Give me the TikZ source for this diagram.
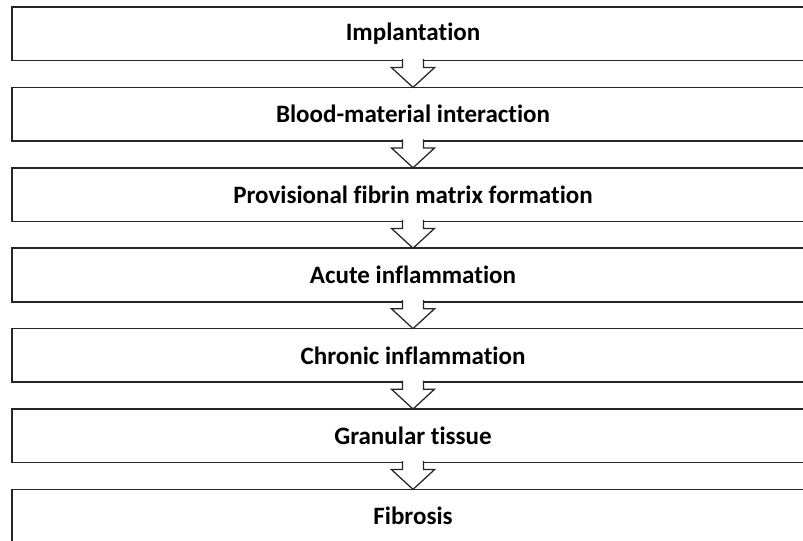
\documentclass[tikz,border=0pt]{standalone}
\usepackage{fontspec}
\setmainfont{Carlito}[Ligatures=NoCommon]
\usetikzlibrary{positioning, calc}
\tikzset{
  every picture/.style={font=\bfseries\fontsize{17.8}{21}\selectfont},
  stage/.style={draw=black!85, line width=1.2pt, minimum width=20.05cm, minimum height=1.34cm, inner sep=0pt, outer sep=0pt},
  blockarrow/.style={draw=black!85, fill=white, line width=0.9pt, line join=miter},
}

\begin{document}
\begin{tikzpicture}[node distance=0.67cm]
  \clip (0,0) rectangle (20.075,-13.5);
  \node[stage, anchor=north west] (s1) at (0.3,-0.175) {Implantation};
  \node[stage, below=of s1] (s2) {Blood-material interaction};
  \node[stage, below=of s2] (s3) {Provisional fibrin matrix formation};
  \node[stage, below=of s3] (s4) {Acute inflammation};
  \node[stage, below=of s4] (s5) {Chronic inflammation};
  \node[stage, below=of s5] (s6) {Granular tissue};
  \node[stage, below=of s6] (s7) {Fibrosis};
  % hollow block arrows between the stages
  \foreach \a/\b in {s1/s2, s2/s3, s3/s4, s4/s5, s5/s6, s6/s7} {
    \filldraw[blockarrow] ($(\a.south)+(-0.2625,0.04)$) -- ($(\a.south)+(-0.2625,-0.175)$)
      -- ($(\a.south)+(-0.5375,-0.175)$) -- (\b.north)
      -- ($(\a.south)+(0.5375,-0.175)$) -- ($(\a.south)+(0.2625,-0.175)$)
      -- ($(\a.south)+(0.2625,0.04)$);
  }
\end{tikzpicture}
\end{document}
